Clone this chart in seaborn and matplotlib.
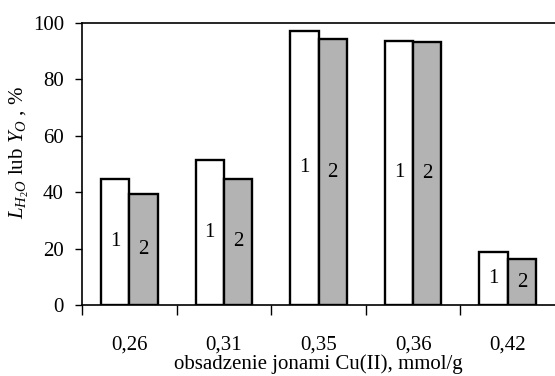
import matplotlib
matplotlib.use("Agg")
import matplotlib.pyplot as plt
import numpy as np
import pandas as pd
import seaborn as sns

# values
categories = ["0,26", "0,31", "0,35", "0,36", "0,42"]
series_1 = [44.8, 51.5, 97.3, 93.7, 18.9]
series_2 = [39.5, 44.8, 94.2, 93.3, 16.2]
series_names = ["1", "2"]

df = pd.DataFrame({
    "cat": categories * 2,
    "val": series_1 + series_2,
    "series": [series_names[0]] * len(categories) + [series_names[1]] * len(categories),
})

sns.set_theme(style="ticks")
plt.rcParams["font.family"] = ["Liberation Serif", "DejaVu Serif"]
plt.rcParams["mathtext.fontset"] = "custom"
plt.rcParams["mathtext.rm"] = "Liberation Serif"
plt.rcParams["mathtext.it"] = "Liberation Serif:italic"

fig = plt.figure(figsize=(5.55, 3.76), dpi=100)
ax = fig.add_axes([82 / 555, 1 - 305 / 376, 1 - 82 / 555, (305 - 23) / 376])

sns.barplot(data=df, x="cat", y="val", hue="series", order=categories,
            palette=["white", "#b3b3b3"], edgecolor="black", linewidth=1.7,
            width=0.6, gap=0, legend=False, ax=ax)

# number each bar at half its height
for container, name in zip(ax.containers, series_names):
    for bar in container:
        h = bar.get_height()
        ax.text(bar.get_x() + bar.get_width() / 2, h / 2, name,
                ha="center", va="center", fontsize=15, color="black")

ax.set_xlim(-0.5, 4.5)
ax.set_ylim(0, 100)
ax.set_yticks(np.arange(0, 101, 20))
ax.tick_params(axis="y", direction="out", length=5, width=1, pad=8,
               labelsize=15, colors="black")
ax.tick_params(axis="x", which="major", length=0, pad=22, labelsize=15,
               colors="black")
ax.set_xticks(np.arange(-0.5, 4.0, 1.0), minor=True)
ax.tick_params(axis="x", which="minor", direction="out", length=7, width=1,
               color="black")

for side in ["left", "bottom", "top"]:
    ax.spines[side].set_color("black")
    ax.spines[side].set_linewidth(1.2)
ax.spines["right"].set_visible(False)

ax.set_xlabel("obsadzenie jonami Cu(II), mmol/g", fontsize=15, labelpad=0,
              color="black")
ax.set_ylabel(r"$L_{H_2O}$ lub $Y_O$ , %", fontsize=15, labelpad=1,
              color="black")
ax.yaxis.label.set_y(0.54)

fig.savefig("out.png", dpi=100)
